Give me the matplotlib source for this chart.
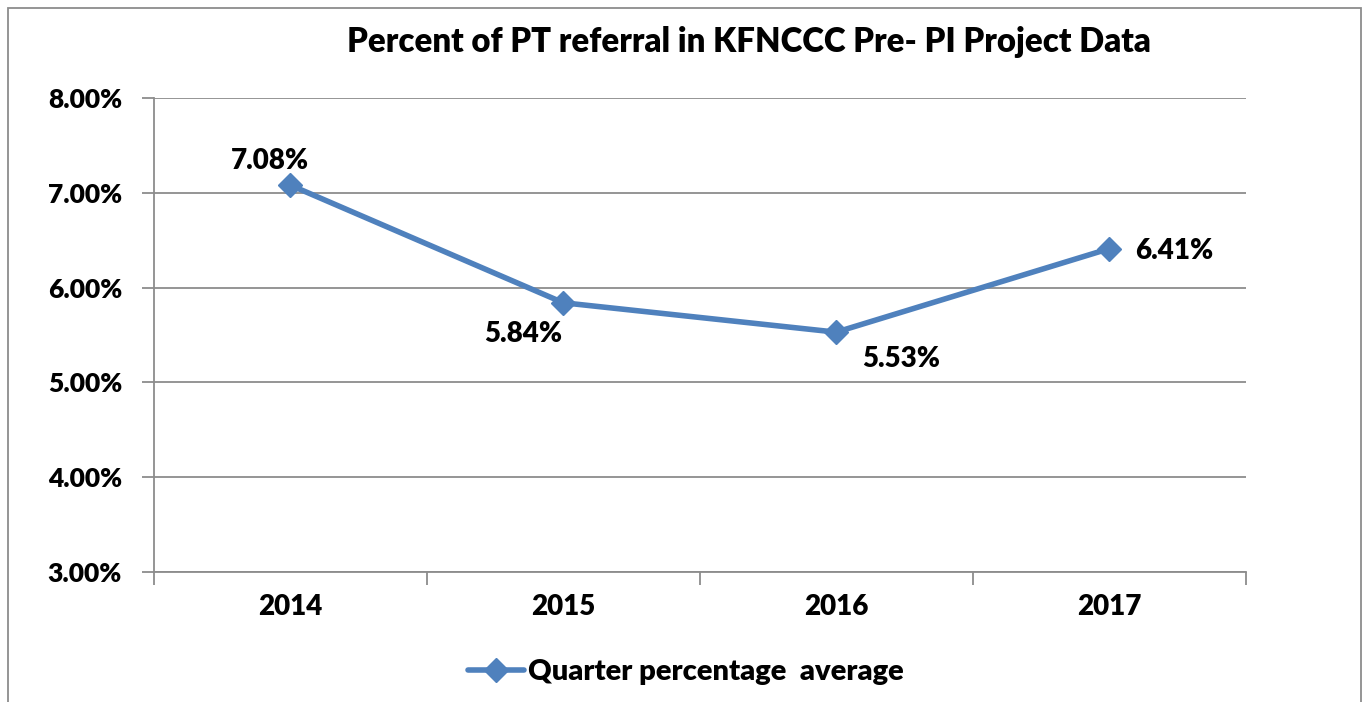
import matplotlib
matplotlib.use("Agg")
import matplotlib.pyplot as plt
from matplotlib.patches import Rectangle
from matplotlib.lines import Line2D

years = ["2014", "2015", "2016", "2017"]
values = [7.08, 5.84, 5.53, 6.41]
value_labels = ["7.08%", "5.84%", "5.53%", "6.41%"]
y_ticks = [3, 4, 5, 6, 7, 8]
y_tick_labels = ["3.00%", "4.00%", "5.00%", "6.00%", "7.00%", "8.00%"]
title = "Percent of PT referral in KFNCCC Pre- PI Project Data"
series_name = "Quarter percentage  average"

FONT = "Lato"
WEIGHT = "heavy"
LINE = "#4F81BD"
GRID = "#8C8C8C"

W, H = 1365, 702
fig = plt.figure(figsize=(W / 100, H / 100), dpi=100)
fig.patch.set_facecolor("white")

# outer chart border
fig.patches.append(Rectangle((8 / W, -0.05), (1361 - 8) / W, 1.05 - 8 / H,
                             transform=fig.transFigure, fill=False,
                             edgecolor="#8C8C8C", linewidth=1.3))

ax = fig.add_axes([154 / W, 1 - 572 / H, (1245.5 - 154) / W, (572 - 98) / H])
x = list(range(len(years)))
ax.plot(x, values, color=LINE, linewidth=4.0, marker="D", markersize=12,
        markerfacecolor=LINE, markeredgecolor=LINE, solid_capstyle="round", zorder=3)

ax.set_xlim(-0.5, len(years) - 0.5)
ax.set_ylim(3, 8)
ax.set_yticks(y_ticks)
ax.set_yticklabels(y_tick_labels)
ax.set_xticks([i - 0.5 for i in range(len(years) + 1)], minor=False)
ax.set_xticklabels([""] * (len(years) + 1))
ax.set_xticks(x, minor=True)
ax.set_xticklabels(years, minor=True)
ax.tick_params(axis="x", which="minor", length=0, pad=16, labelsize=20)
ax.tick_params(axis="x", which="major", length=9, width=1.3, color=GRID, direction="out")
ax.tick_params(axis="y", length=9, width=1.3, color=GRID, direction="out", pad=14, labelsize=19)
for lab in ax.get_yticklabels() + ax.get_xticklabels(minor=True):
    lab.set_fontfamily(FONT)
    lab.set_fontweight(WEIGHT)

ax.grid(axis="y", color=GRID, linewidth=1.3)
ax.set_axisbelow(True)
for s in ["top", "right"]:
    ax.spines[s].set_visible(False)
for s in ["left", "bottom"]:
    ax.spines[s].set_color(GRID)
    ax.spines[s].set_linewidth(1.3)

offsets = [(-21, 24), (-40, -31), (65, -27), (65, -2)]
for xi, v, lab, off in zip(x, values, value_labels, offsets):
    ax.annotate(lab, (xi, v), xytext=off, textcoords="offset pixels",
                ha="center", va="center", fontsize=20, fontweight=WEIGHT,
                fontfamily=FONT, color="black")

fig.text(749 / W, 1 - 42 / H, title, ha="center", va="center",
         fontsize=23.7, fontweight=WEIGHT, fontfamily=FONT)

# legend
leg_handle = Line2D([], [], color=LINE, linewidth=4.0, marker="D", markersize=12,
                    solid_capstyle="round")
leg = fig.legend([leg_handle], [series_name], loc="center",
                 bbox_to_anchor=(686 / W, 1 - 672 / H), frameon=False,
                 prop={"family": FONT, "weight": WEIGHT, "size": 21},
                 handlelength=1.9, handletextpad=0.15)

fig.savefig("out.png", dpi=100, facecolor="white")
